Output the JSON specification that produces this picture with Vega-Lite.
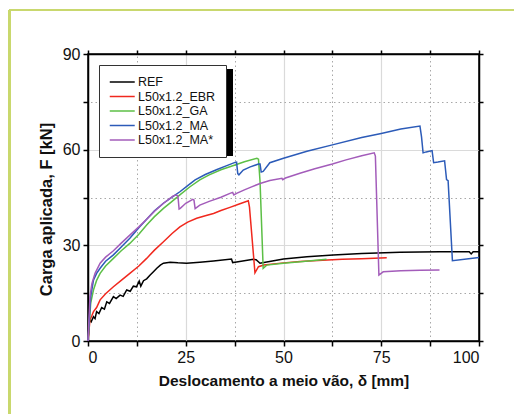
{
  "$schema": "https://vega.github.io/schema/vega-lite/v6.json",
  "width": 391,
  "height": 287,
  "autosize": {"type": "none"},
  "padding": {"left": 88, "top": 54, "right": 35, "bottom": 73},
  "background": "white",
  "config": {
    "font": "Liberation Sans",
    "view": {"stroke": "black", "strokeWidth": 1.5},
    "axis": {
      "domainColor": "black", "domainWidth": 1.5,
      "tickColor": "black", "tickWidth": 1.5, "tickSize": 5,
      "labelFont": "Liberation Sans", "labelFontSize": 16, "labelColor": "#111",
      "titleFont": "Liberation Sans", "titleFontSize": 15.5, "titleFontWeight": "bold", "titleColor": "#111"
    }
  },
  "data": {"values": [
    {"s":"REF","x":0,"y":0},{"s":"REF","x":0.3,"y":6.6},{"s":"REF","x":0.8,"y":6.0},{"s":"REF","x":1.4,"y":7.6},{"s":"REF","x":1.8,"y":7.0},{"s":"REF","x":2.2,"y":9.2},{"s":"REF","x":2.8,"y":8.6},{"s":"REF","x":3.5,"y":10.5},{"s":"REF","x":4.2,"y":10.0},{"s":"REF","x":4.8,"y":12.3},{"s":"REF","x":5.5,"y":11.8},{"s":"REF","x":6.5,"y":13.9},{"s":"REF","x":7.2,"y":13.3},{"s":"REF","x":8.2,"y":14.4},{"s":"REF","x":9.0,"y":14.0},{"s":"REF","x":9.9,"y":16.0},{"s":"REF","x":10.8,"y":15.6},{"s":"REF","x":11.6,"y":17.2},{"s":"REF","x":12.4,"y":17.0},{"s":"REF","x":13.1,"y":18.8},{"s":"REF","x":13.5,"y":17.2},{"s":"REF","x":14.2,"y":18.9},{"s":"REF","x":15.0,"y":19.5},{"s":"REF","x":15.9,"y":20.7},{"s":"REF","x":16.8,"y":21.8},{"s":"REF","x":17.6,"y":22.8},{"s":"REF","x":18.5,"y":23.8},{"s":"REF","x":19.3,"y":24.4},{"s":"REF","x":21.0,"y":24.7},{"s":"REF","x":23.0,"y":24.5},{"s":"REF","x":25.2,"y":24.4},{"s":"REF","x":28.6,"y":24.7},{"s":"REF","x":32.1,"y":25.1},{"s":"REF","x":36.7,"y":25.7},{"s":"REF","x":37.0,"y":24.6},{"s":"REF","x":38.0,"y":24.8},{"s":"REF","x":42.3,"y":25.6},{"s":"REF","x":43.0,"y":25.5},{"s":"REF","x":44.0,"y":24.4},{"s":"REF","x":45.0,"y":24.6},{"s":"REF","x":50.0,"y":25.7},{"s":"REF","x":56.0,"y":26.4},{"s":"REF","x":62.7,"y":27.0},{"s":"REF","x":70.0,"y":27.4},{"s":"REF","x":79.8,"y":27.8},{"s":"REF","x":90.0,"y":28.0},{"s":"REF","x":97.5,"y":28.0},{"s":"REF","x":98.0,"y":27.3},{"s":"REF","x":98.5,"y":28.0},{"s":"REF","x":100,"y":28.0},

    {"s":"L50x1.2_EBR","x":0,"y":0},{"s":"L50x1.2_EBR","x":0.5,"y":6.6},{"s":"L50x1.2_EBR","x":1.0,"y":8.0},{"s":"L50x1.2_EBR","x":1.4,"y":9.2},{"s":"L50x1.2_EBR","x":2.2,"y":10.5},{"s":"L50x1.2_EBR","x":3.1,"y":12.9},{"s":"L50x1.2_EBR","x":4.5,"y":14.8},{"s":"L50x1.2_EBR","x":6.5,"y":17.0},{"s":"L50x1.2_EBR","x":8.5,"y":19.0},{"s":"L50x1.2_EBR","x":10.7,"y":21.2},{"s":"L50x1.2_EBR","x":13.0,"y":23.5},{"s":"L50x1.2_EBR","x":15.0,"y":25.9},{"s":"L50x1.2_EBR","x":17.0,"y":28.5},{"s":"L50x1.2_EBR","x":19.3,"y":31.1},{"s":"L50x1.2_EBR","x":21.5,"y":33.7},{"s":"L50x1.2_EBR","x":23.5,"y":35.8},{"s":"L50x1.2_EBR","x":25.5,"y":37.3},{"s":"L50x1.2_EBR","x":27.8,"y":38.5},{"s":"L50x1.2_EBR","x":30.0,"y":39.3},{"s":"L50x1.2_EBR","x":32.1,"y":40.0},{"s":"L50x1.2_EBR","x":34.0,"y":40.9},{"s":"L50x1.2_EBR","x":36.3,"y":41.9},{"s":"L50x1.2_EBR","x":38.5,"y":42.9},{"s":"L50x1.2_EBR","x":41.0,"y":44.0},{"s":"L50x1.2_EBR","x":41.3,"y":42.0},{"s":"L50x1.2_EBR","x":42.7,"y":21.4},{"s":"L50x1.2_EBR","x":43.6,"y":23.3},{"s":"L50x1.2_EBR","x":45.0,"y":23.8},{"s":"L50x1.2_EBR","x":50.0,"y":24.5},{"s":"L50x1.2_EBR","x":54.2,"y":24.9},{"s":"L50x1.2_EBR","x":60.0,"y":25.3},{"s":"L50x1.2_EBR","x":65.0,"y":25.6},{"s":"L50x1.2_EBR","x":70.0,"y":25.8},{"s":"L50x1.2_EBR","x":76.4,"y":26.1},

    {"s":"L50x1.2_GA","x":0,"y":0},{"s":"L50x1.2_GA","x":0.7,"y":12.0},{"s":"L50x1.2_GA","x":1.4,"y":16.0},{"s":"L50x1.2_GA","x":2.2,"y":19.0},{"s":"L50x1.2_GA","x":3.1,"y":21.2},{"s":"L50x1.2_GA","x":4.5,"y":23.5},{"s":"L50x1.2_GA","x":6.5,"y":25.9},{"s":"L50x1.2_GA","x":8.5,"y":28.3},{"s":"L50x1.2_GA","x":10.7,"y":30.6},{"s":"L50x1.2_GA","x":13.0,"y":33.5},{"s":"L50x1.2_GA","x":15.0,"y":36.4},{"s":"L50x1.2_GA","x":17.0,"y":39.0},{"s":"L50x1.2_GA","x":19.3,"y":41.6},{"s":"L50x1.2_GA","x":21.5,"y":43.8},{"s":"L50x1.2_GA","x":23.5,"y":45.8},{"s":"L50x1.2_GA","x":26.0,"y":48.3},{"s":"L50x1.2_GA","x":28.6,"y":50.5},{"s":"L50x1.2_GA","x":31.0,"y":52.1},{"s":"L50x1.2_GA","x":34.0,"y":53.7},{"s":"L50x1.2_GA","x":37.6,"y":55.2},{"s":"L50x1.2_GA","x":40.0,"y":56.2},{"s":"L50x1.2_GA","x":43.2,"y":57.3},{"s":"L50x1.2_GA","x":43.6,"y":57.0},{"s":"L50x1.2_GA","x":44.0,"y":50.0},{"s":"L50x1.2_GA","x":44.8,"y":22.8},{"s":"L50x1.2_GA","x":45.7,"y":23.8},{"s":"L50x1.2_GA","x":50.0,"y":24.4},{"s":"L50x1.2_GA","x":55.0,"y":24.9},{"s":"L50x1.2_GA","x":61.0,"y":25.6},

    {"s":"L50x1.2_MA","x":0,"y":0},{"s":"L50x1.2_MA","x":0.7,"y":14.0},{"s":"L50x1.2_MA","x":1.4,"y":19.1},{"s":"L50x1.2_MA","x":2.2,"y":21.2},{"s":"L50x1.2_MA","x":3.1,"y":22.8},{"s":"L50x1.2_MA","x":4.5,"y":25.0},{"s":"L50x1.2_MA","x":6.5,"y":27.0},{"s":"L50x1.2_MA","x":8.5,"y":29.5},{"s":"L50x1.2_MA","x":10.7,"y":32.2},{"s":"L50x1.2_MA","x":13.0,"y":35.5},{"s":"L50x1.2_MA","x":15.0,"y":38.2},{"s":"L50x1.2_MA","x":17.0,"y":40.8},{"s":"L50x1.2_MA","x":19.3,"y":43.2},{"s":"L50x1.2_MA","x":21.5,"y":45.1},{"s":"L50x1.2_MA","x":23.5,"y":46.8},{"s":"L50x1.2_MA","x":25.5,"y":48.7},{"s":"L50x1.2_MA","x":27.4,"y":50.5},{"s":"L50x1.2_MA","x":30.0,"y":52.2},{"s":"L50x1.2_MA","x":33.0,"y":53.8},{"s":"L50x1.2_MA","x":35.5,"y":55.0},{"s":"L50x1.2_MA","x":37.6,"y":56.0},{"s":"L50x1.2_MA","x":38.0,"y":56.1},{"s":"L50x1.2_MA","x":38.3,"y":52.5},{"s":"L50x1.2_MA","x":38.6,"y":52.1},{"s":"L50x1.2_MA","x":39.7,"y":53.6},{"s":"L50x1.2_MA","x":41.5,"y":54.6},{"s":"L50x1.2_MA","x":43.6,"y":55.5},{"s":"L50x1.2_MA","x":44.0,"y":55.5},{"s":"L50x1.2_MA","x":44.3,"y":53.0},{"s":"L50x1.2_MA","x":44.8,"y":53.2},{"s":"L50x1.2_MA","x":46.5,"y":55.9},{"s":"L50x1.2_MA","x":50.0,"y":57.3},{"s":"L50x1.2_MA","x":56.0,"y":59.5},{"s":"L50x1.2_MA","x":62.5,"y":61.5},{"s":"L50x1.2_MA","x":70.0,"y":63.8},{"s":"L50x1.2_MA","x":75.0,"y":65.1},{"s":"L50x1.2_MA","x":80.0,"y":66.5},{"s":"L50x1.2_MA","x":84.9,"y":67.4},{"s":"L50x1.2_MA","x":85.3,"y":64.0},{"s":"L50x1.2_MA","x":85.7,"y":59.0},{"s":"L50x1.2_MA","x":86.5,"y":59.3},{"s":"L50x1.2_MA","x":88.0,"y":59.7},{"s":"L50x1.2_MA","x":88.4,"y":55.9},{"s":"L50x1.2_MA","x":89.5,"y":56.1},{"s":"L50x1.2_MA","x":91.2,"y":56.5},{"s":"L50x1.2_MA","x":91.5,"y":53.0},{"s":"L50x1.2_MA","x":91.7,"y":50.6},{"s":"L50x1.2_MA","x":92.1,"y":50.3},{"s":"L50x1.2_MA","x":93.2,"y":25.2},{"s":"L50x1.2_MA","x":100,"y":26.2},

    {"s":"L50x1.2_MA*","x":0,"y":0},{"s":"L50x1.2_MA*","x":0.5,"y":13.9},{"s":"L50x1.2_MA*","x":1.0,"y":18.0},{"s":"L50x1.2_MA*","x":1.8,"y":21.2},{"s":"L50x1.2_MA*","x":3.1,"y":24.4},{"s":"L50x1.2_MA*","x":4.5,"y":26.3},{"s":"L50x1.2_MA*","x":6.5,"y":28.3},{"s":"L50x1.2_MA*","x":8.5,"y":30.7},{"s":"L50x1.2_MA*","x":10.7,"y":33.2},{"s":"L50x1.2_MA*","x":13.0,"y":35.8},{"s":"L50x1.2_MA*","x":15.0,"y":38.2},{"s":"L50x1.2_MA*","x":17.0,"y":40.7},{"s":"L50x1.2_MA*","x":19.3,"y":43.2},{"s":"L50x1.2_MA*","x":21.8,"y":45.5},{"s":"L50x1.2_MA*","x":22.6,"y":45.8},{"s":"L50x1.2_MA*","x":23.0,"y":45.5},{"s":"L50x1.2_MA*","x":23.3,"y":41.4},{"s":"L50x1.2_MA*","x":23.6,"y":41.6},{"s":"L50x1.2_MA*","x":25.0,"y":43.2},{"s":"L50x1.2_MA*","x":26.8,"y":44.4},{"s":"L50x1.2_MA*","x":27.1,"y":44.2},{"s":"L50x1.2_MA*","x":27.4,"y":41.5},{"s":"L50x1.2_MA*","x":28.6,"y":42.6},{"s":"L50x1.2_MA*","x":31.0,"y":43.8},{"s":"L50x1.2_MA*","x":34.0,"y":45.1},{"s":"L50x1.2_MA*","x":36.3,"y":46.3},{"s":"L50x1.2_MA*","x":37.0,"y":46.6},{"s":"L50x1.2_MA*","x":37.3,"y":45.8},{"s":"L50x1.2_MA*","x":38.0,"y":46.3},{"s":"L50x1.2_MA*","x":40.0,"y":47.4},{"s":"L50x1.2_MA*","x":42.0,"y":48.4},{"s":"L50x1.2_MA*","x":44.0,"y":49.4},{"s":"L50x1.2_MA*","x":46.5,"y":50.3},{"s":"L50x1.2_MA*","x":49.6,"y":51.0},{"s":"L50x1.2_MA*","x":49.8,"y":50.6},{"s":"L50x1.2_MA*","x":50.5,"y":51.1},{"s":"L50x1.2_MA*","x":54.2,"y":52.6},{"s":"L50x1.2_MA*","x":58.0,"y":54.0},{"s":"L50x1.2_MA*","x":62.5,"y":55.5},{"s":"L50x1.2_MA*","x":66.0,"y":56.8},{"s":"L50x1.2_MA*","x":70.0,"y":58.1},{"s":"L50x1.2_MA*","x":73.2,"y":59.0},{"s":"L50x1.2_MA*","x":73.5,"y":58.0},{"s":"L50x1.2_MA*","x":74.4,"y":20.7},{"s":"L50x1.2_MA*","x":75.5,"y":21.7},{"s":"L50x1.2_MA*","x":80.0,"y":22.0},{"s":"L50x1.2_MA*","x":85.0,"y":22.2},{"s":"L50x1.2_MA*","x":89.9,"y":22.3}
  ]},
  "resolve": {"axis": {"x": "independent", "y": "independent"}},
  "layer": [
    {
      "mark": {"type": "rule", "stroke": "#c9d86e", "strokeWidth": 2, "clip": false},
      "encoding": {
        "x": {"datum": -20, "type": "quantitative", "scale": {"domain": [0, 100]},
          "axis": {"orient": "top", "values": [0,12.5,25,37.5,50,62.5,75,87.5,100], "labels": false, "title": null, "grid": false, "tickSize": 4}},
        "y": {"datum": -25, "type": "quantitative", "scale": {"domain": [0, 90]},
          "axis": {"orient": "right", "values": [0,15,30,45,60,75,90], "labels": false, "title": null, "grid": false, "tickSize": 4}},
        "y2": {"datum": 103.8}
      }
    },
    {
      "mark": {"type": "rule", "stroke": "#c9d86e", "strokeWidth": 2, "clip": false},
      "encoding": {
        "x": {"datum": -20, "type": "quantitative", "scale": {"domain": [0, 100]},
          "axis": {"orient": "top", "values": [12.5,37.5,62.5,87.5], "labels": false, "ticks": false, "domain": false, "title": null,
            "grid": true, "gridColor": "#a8a8a8", "gridWidth": 1, "gridDash": [1.5, 3]}},
        "x2": {"datum": 130},
        "y": {"datum": 103.8, "type": "quantitative", "scale": {"domain": [0, 90]},
          "axis": {"orient": "right", "values": [15,45,75], "labels": false, "ticks": false, "domain": false, "title": null,
            "grid": true, "gridColor": "#a8a8a8", "gridWidth": 1, "gridDash": [1.5, 3]}}
      }
    },
    {
      "mark": {"type": "rect", "fill": "black", "clip": false},
      "encoding": {
        "x": {"datum": 4.4, "type": "quantitative", "scale": {"domain": [0, 100]},
          "axis": {"orient": "bottom", "values": [25,50,75], "labels": false, "ticks": false, "domain": false, "title": null,
            "grid": true, "gridColor": "#dadada", "gridWidth": 1.2}},
        "x2": {"datum": 37.0},
        "y": {"datum": 85.3, "type": "quantitative", "scale": {"domain": [0, 90]},
          "axis": {"orient": "left", "values": [30,60], "labels": false, "ticks": false, "domain": false, "title": null,
            "grid": true, "gridColor": "#dadada", "gridWidth": 1.2}},
        "y2": {"datum": 58.0}
      }
    },
    {
      "mark": {"type": "line", "strokeWidth": 1.5},
      "encoding": {
        "x": {"field": "x", "type": "quantitative", "scale": {"domain": [0, 100]},
          "axis": {"orient": "bottom", "values": [0,12.5,25,37.5,50,62.5,75,87.5,100],
            "labelExpr": "datum.value % 25 == 0 ? datum.label : ''", "labelPadding": 3,
            "title": "Deslocamento a meio vão, δ [mm]", "titlePadding": 8, "grid": false}},
        "y": {"field": "y", "type": "quantitative", "scale": {"domain": [0, 90]},
          "axis": {"orient": "left", "values": [0,15,30,45,60,75,90],
            "labelExpr": "datum.value % 30 == 0 ? datum.label : ''", "labelPadding": 3,
            "title": "Carga aplicada, F [kN]", "titlePadding": 8, "titleFontSize": 16.5, "titleY": 155, "grid": false}},
        "color": {"field": "s", "type": "nominal",
          "scale": {"domain": ["REF","L50x1.2_EBR","L50x1.2_GA","L50x1.2_MA","L50x1.2_MA*"],
                    "range": ["#000000","#f0281e","#5cbf46","#2c5bb8","#a35cba"]},
          "legend": {"title": null, "orient": "none", "legendX": 11, "legendY": 11,
            "fillColor": "white", "strokeColor": "#333", "padding": 10,
            "symbolType": "M-1,0H3", "symbolSize": 156, "symbolStrokeWidth": 1.5,
            "labelFont": "Liberation Sans", "labelFontSize": 12.5, "labelColor": "#111", "labelOffset": 15,
            "rowPadding": 0.5}}
      }
    }
  ]
}
